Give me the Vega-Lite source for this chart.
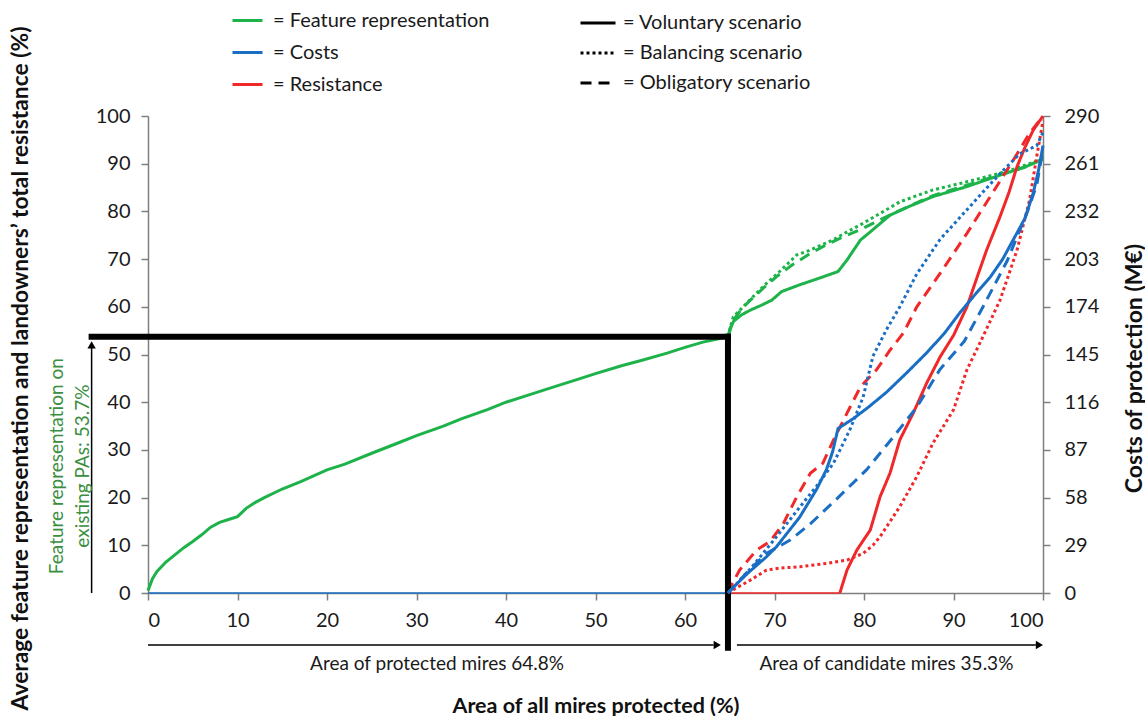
{
  "$schema": "https://vega.github.io/schema/vega-lite/v6.json",
  "width": 895,
  "height": 477,
  "autosize": {"type": "none"},
  "padding": {"left": 148, "top": 116, "right": 102, "bottom": 123},
  "background": "white",
  "config": {
    "font": "Lato",
    "view": {"stroke": null},
    "axis": {
      "grid": false,
      "domainColor": "#7f7f7f",
      "domainWidth": 1.5,
      "tickColor": "#7f7f7f",
      "tickWidth": 1.5,
      "tickSize": 7,
      "labelFontSize": 20,
      "labelColor": "#1a1a1a",
      "titleFontSize": 21.5,
      "titleFontWeight": "bold",
      "titleColor": "#111111"
    },
    "legend": {
      "labelFontSize": 20,
      "labelColor": "#1a1a1a",
      "labelLimit": 400
    }
  },
  "datasets": {
    "base": [
      {"series": "Feature representation", "x": 0, "y": 0.5},
      {"series": "Feature representation", "x": 0.5, "y": 3},
      {"series": "Feature representation", "x": 1, "y": 4.5},
      {"series": "Feature representation", "x": 2, "y": 6.5},
      {"series": "Feature representation", "x": 3, "y": 8},
      {"series": "Feature representation", "x": 4, "y": 9.5},
      {"series": "Feature representation", "x": 5, "y": 10.8},
      {"series": "Feature representation", "x": 6, "y": 12.2},
      {"series": "Feature representation", "x": 7, "y": 13.8},
      {"series": "Feature representation", "x": 8, "y": 14.8},
      {"series": "Feature representation", "x": 9, "y": 15.4},
      {"series": "Feature representation", "x": 10, "y": 16},
      {"series": "Feature representation", "x": 11, "y": 17.8},
      {"series": "Feature representation", "x": 12, "y": 19},
      {"series": "Feature representation", "x": 13, "y": 20},
      {"series": "Feature representation", "x": 15, "y": 21.8},
      {"series": "Feature representation", "x": 17, "y": 23.3},
      {"series": "Feature representation", "x": 20, "y": 25.8},
      {"series": "Feature representation", "x": 22, "y": 27},
      {"series": "Feature representation", "x": 25, "y": 29.3},
      {"series": "Feature representation", "x": 28, "y": 31.5},
      {"series": "Feature representation", "x": 30, "y": 33},
      {"series": "Feature representation", "x": 33, "y": 35},
      {"series": "Feature representation", "x": 35, "y": 36.5},
      {"series": "Feature representation", "x": 38, "y": 38.5},
      {"series": "Feature representation", "x": 40, "y": 40},
      {"series": "Feature representation", "x": 43, "y": 41.8},
      {"series": "Feature representation", "x": 45, "y": 43},
      {"series": "Feature representation", "x": 48, "y": 44.8},
      {"series": "Feature representation", "x": 50, "y": 46},
      {"series": "Feature representation", "x": 53, "y": 47.7},
      {"series": "Feature representation", "x": 55, "y": 48.7},
      {"series": "Feature representation", "x": 58, "y": 50.3},
      {"series": "Feature representation", "x": 60, "y": 51.5},
      {"series": "Feature representation", "x": 62, "y": 52.6},
      {"series": "Feature representation", "x": 64.8, "y": 53.7},
      {"series": "Costs", "x": 0, "y": 0},
      {"series": "Costs", "x": 64.8, "y": 0},
      {"series": "Resistance", "x": 64.8, "y": 0},
      {"series": "Resistance", "x": 77.3, "y": 0}
    ],
    "scen": [
      {"series": "Feature representation", "scenario": "Voluntary scenario", "x": 64.8, "y": 53.7},
      {"series": "Feature representation", "scenario": "Voluntary scenario", "x": 65.1, "y": 55.5},
      {"series": "Feature representation", "scenario": "Voluntary scenario", "x": 65.4, "y": 56.9},
      {"series": "Feature representation", "scenario": "Voluntary scenario", "x": 66.3, "y": 58.3},
      {"series": "Feature representation", "scenario": "Voluntary scenario", "x": 67.3, "y": 59.3},
      {"series": "Feature representation", "scenario": "Voluntary scenario", "x": 68.5, "y": 60.3},
      {"series": "Feature representation", "scenario": "Voluntary scenario", "x": 69.7, "y": 61.4},
      {"series": "Feature representation", "scenario": "Voluntary scenario", "x": 70.8, "y": 63.2},
      {"series": "Feature representation", "scenario": "Voluntary scenario", "x": 72.8, "y": 64.6},
      {"series": "Feature representation", "scenario": "Voluntary scenario", "x": 75, "y": 66},
      {"series": "Feature representation", "scenario": "Voluntary scenario", "x": 77.1, "y": 67.4},
      {"series": "Feature representation", "scenario": "Voluntary scenario", "x": 78.1, "y": 69.8},
      {"series": "Feature representation", "scenario": "Voluntary scenario", "x": 79.6, "y": 74},
      {"series": "Feature representation", "scenario": "Voluntary scenario", "x": 80.7, "y": 75.7},
      {"series": "Feature representation", "scenario": "Voluntary scenario", "x": 82.9, "y": 79.2},
      {"series": "Feature representation", "scenario": "Voluntary scenario", "x": 85, "y": 81},
      {"series": "Feature representation", "scenario": "Voluntary scenario", "x": 87.7, "y": 83.1},
      {"series": "Feature representation", "scenario": "Voluntary scenario", "x": 91.5, "y": 85.2},
      {"series": "Feature representation", "scenario": "Voluntary scenario", "x": 95.2, "y": 87.6},
      {"series": "Feature representation", "scenario": "Voluntary scenario", "x": 98, "y": 89.3},
      {"series": "Feature representation", "scenario": "Voluntary scenario", "x": 100, "y": 91},
      {"series": "Feature representation", "scenario": "Balancing scenario", "x": 64.8, "y": 53.7},
      {"series": "Feature representation", "scenario": "Balancing scenario", "x": 65.1, "y": 56},
      {"series": "Feature representation", "scenario": "Balancing scenario", "x": 65.4, "y": 57.9},
      {"series": "Feature representation", "scenario": "Balancing scenario", "x": 66.5, "y": 60},
      {"series": "Feature representation", "scenario": "Balancing scenario", "x": 67.8, "y": 62.5},
      {"series": "Feature representation", "scenario": "Balancing scenario", "x": 69.1, "y": 64.9},
      {"series": "Feature representation", "scenario": "Balancing scenario", "x": 70.8, "y": 67.8},
      {"series": "Feature representation", "scenario": "Balancing scenario", "x": 72.5, "y": 70.9},
      {"series": "Feature representation", "scenario": "Balancing scenario", "x": 74, "y": 71.9},
      {"series": "Feature representation", "scenario": "Balancing scenario", "x": 76.5, "y": 74},
      {"series": "Feature representation", "scenario": "Balancing scenario", "x": 78.2, "y": 75.8},
      {"series": "Feature representation", "scenario": "Balancing scenario", "x": 79.9, "y": 77.5},
      {"series": "Feature representation", "scenario": "Balancing scenario", "x": 82, "y": 79.8},
      {"series": "Feature representation", "scenario": "Balancing scenario", "x": 84, "y": 82},
      {"series": "Feature representation", "scenario": "Balancing scenario", "x": 87.7, "y": 84.5},
      {"series": "Feature representation", "scenario": "Balancing scenario", "x": 91.5, "y": 86.2},
      {"series": "Feature representation", "scenario": "Balancing scenario", "x": 94.4, "y": 87.6},
      {"series": "Feature representation", "scenario": "Balancing scenario", "x": 97, "y": 89},
      {"series": "Feature representation", "scenario": "Balancing scenario", "x": 100, "y": 91},
      {"series": "Feature representation", "scenario": "Obligatory scenario", "x": 64.8, "y": 53.7},
      {"series": "Feature representation", "scenario": "Obligatory scenario", "x": 65.1, "y": 55.8},
      {"series": "Feature representation", "scenario": "Obligatory scenario", "x": 65.4, "y": 57.2},
      {"series": "Feature representation", "scenario": "Obligatory scenario", "x": 66.3, "y": 59.5},
      {"series": "Feature representation", "scenario": "Obligatory scenario", "x": 67.3, "y": 61.4},
      {"series": "Feature representation", "scenario": "Obligatory scenario", "x": 68.8, "y": 64},
      {"series": "Feature representation", "scenario": "Obligatory scenario", "x": 70.2, "y": 66.3},
      {"series": "Feature representation", "scenario": "Obligatory scenario", "x": 72, "y": 68.8},
      {"series": "Feature representation", "scenario": "Obligatory scenario", "x": 74, "y": 71.2},
      {"series": "Feature representation", "scenario": "Obligatory scenario", "x": 75.8, "y": 73},
      {"series": "Feature representation", "scenario": "Obligatory scenario", "x": 77.7, "y": 74.7},
      {"series": "Feature representation", "scenario": "Obligatory scenario", "x": 79.4, "y": 76},
      {"series": "Feature representation", "scenario": "Obligatory scenario", "x": 81, "y": 77.5},
      {"series": "Feature representation", "scenario": "Obligatory scenario", "x": 83.3, "y": 79.6},
      {"series": "Feature representation", "scenario": "Obligatory scenario", "x": 85.5, "y": 81.5},
      {"series": "Feature representation", "scenario": "Obligatory scenario", "x": 87.7, "y": 83.3},
      {"series": "Feature representation", "scenario": "Obligatory scenario", "x": 91.5, "y": 85.5},
      {"series": "Feature representation", "scenario": "Obligatory scenario", "x": 95.2, "y": 87.7},
      {"series": "Feature representation", "scenario": "Obligatory scenario", "x": 98, "y": 89.3},
      {"series": "Feature representation", "scenario": "Obligatory scenario", "x": 100, "y": 91},
      {"series": "Resistance", "scenario": "Voluntary scenario", "x": 77.3, "y": 0},
      {"series": "Resistance", "scenario": "Voluntary scenario", "x": 78.1, "y": 4.8},
      {"series": "Resistance", "scenario": "Voluntary scenario", "x": 79.2, "y": 9},
      {"series": "Resistance", "scenario": "Voluntary scenario", "x": 80.7, "y": 13.2},
      {"series": "Resistance", "scenario": "Voluntary scenario", "x": 81.8, "y": 20.2},
      {"series": "Resistance", "scenario": "Voluntary scenario", "x": 82.9, "y": 25.1},
      {"series": "Resistance", "scenario": "Voluntary scenario", "x": 84, "y": 32.1},
      {"series": "Resistance", "scenario": "Voluntary scenario", "x": 85.5, "y": 37.7},
      {"series": "Resistance", "scenario": "Voluntary scenario", "x": 87, "y": 44},
      {"series": "Resistance", "scenario": "Voluntary scenario", "x": 88.5, "y": 49.5},
      {"series": "Resistance", "scenario": "Voluntary scenario", "x": 90, "y": 54},
      {"series": "Resistance", "scenario": "Voluntary scenario", "x": 91.5, "y": 60},
      {"series": "Resistance", "scenario": "Voluntary scenario", "x": 92.6, "y": 66},
      {"series": "Resistance", "scenario": "Voluntary scenario", "x": 93.7, "y": 71.9},
      {"series": "Resistance", "scenario": "Voluntary scenario", "x": 95.2, "y": 78.9},
      {"series": "Resistance", "scenario": "Voluntary scenario", "x": 96.2, "y": 84},
      {"series": "Resistance", "scenario": "Voluntary scenario", "x": 97.1, "y": 89.4},
      {"series": "Resistance", "scenario": "Voluntary scenario", "x": 98, "y": 93.5},
      {"series": "Resistance", "scenario": "Voluntary scenario", "x": 98.9, "y": 97},
      {"series": "Resistance", "scenario": "Voluntary scenario", "x": 100, "y": 100},
      {"series": "Resistance", "scenario": "Balancing scenario", "x": 64.8, "y": 0},
      {"series": "Resistance", "scenario": "Balancing scenario", "x": 65.5, "y": 0.8},
      {"series": "Resistance", "scenario": "Balancing scenario", "x": 67.3, "y": 2.7},
      {"series": "Resistance", "scenario": "Balancing scenario", "x": 69.1, "y": 4.8},
      {"series": "Resistance", "scenario": "Balancing scenario", "x": 70.5, "y": 5.2},
      {"series": "Resistance", "scenario": "Balancing scenario", "x": 72.8, "y": 5.5},
      {"series": "Resistance", "scenario": "Balancing scenario", "x": 75.8, "y": 6.2},
      {"series": "Resistance", "scenario": "Balancing scenario", "x": 78.1, "y": 6.9},
      {"series": "Resistance", "scenario": "Balancing scenario", "x": 79.9, "y": 8.3},
      {"series": "Resistance", "scenario": "Balancing scenario", "x": 81, "y": 10},
      {"series": "Resistance", "scenario": "Balancing scenario", "x": 81.8, "y": 11.8},
      {"series": "Resistance", "scenario": "Balancing scenario", "x": 84, "y": 18.1},
      {"series": "Resistance", "scenario": "Balancing scenario", "x": 85.9, "y": 24.4},
      {"series": "Resistance", "scenario": "Balancing scenario", "x": 87.7, "y": 31.4},
      {"series": "Resistance", "scenario": "Balancing scenario", "x": 90, "y": 38.4},
      {"series": "Resistance", "scenario": "Balancing scenario", "x": 91.5, "y": 46.8},
      {"series": "Resistance", "scenario": "Balancing scenario", "x": 93.1, "y": 53},
      {"series": "Resistance", "scenario": "Balancing scenario", "x": 95.2, "y": 61.4},
      {"series": "Resistance", "scenario": "Balancing scenario", "x": 97.1, "y": 71.9},
      {"series": "Resistance", "scenario": "Balancing scenario", "x": 98.5, "y": 82.4},
      {"series": "Resistance", "scenario": "Balancing scenario", "x": 99.3, "y": 91.5},
      {"series": "Resistance", "scenario": "Balancing scenario", "x": 100, "y": 99},
      {"series": "Resistance", "scenario": "Obligatory scenario", "x": 64.8, "y": 0},
      {"series": "Resistance", "scenario": "Obligatory scenario", "x": 65.3, "y": 2},
      {"series": "Resistance", "scenario": "Obligatory scenario", "x": 66.1, "y": 4.8},
      {"series": "Resistance", "scenario": "Obligatory scenario", "x": 68, "y": 9},
      {"series": "Resistance", "scenario": "Obligatory scenario", "x": 69.5, "y": 10.8},
      {"series": "Resistance", "scenario": "Obligatory scenario", "x": 71, "y": 14.6},
      {"series": "Resistance", "scenario": "Obligatory scenario", "x": 72.5, "y": 20.2},
      {"series": "Resistance", "scenario": "Obligatory scenario", "x": 74, "y": 25.1},
      {"series": "Resistance", "scenario": "Obligatory scenario", "x": 75.4, "y": 27.2},
      {"series": "Resistance", "scenario": "Obligatory scenario", "x": 76.6, "y": 32.1},
      {"series": "Resistance", "scenario": "Obligatory scenario", "x": 78.1, "y": 37.7},
      {"series": "Resistance", "scenario": "Obligatory scenario", "x": 79.6, "y": 43.2},
      {"series": "Resistance", "scenario": "Obligatory scenario", "x": 81.4, "y": 46.8},
      {"series": "Resistance", "scenario": "Obligatory scenario", "x": 82.9, "y": 50.9},
      {"series": "Resistance", "scenario": "Obligatory scenario", "x": 84.4, "y": 54.5},
      {"series": "Resistance", "scenario": "Obligatory scenario", "x": 85.9, "y": 60},
      {"series": "Resistance", "scenario": "Obligatory scenario", "x": 88.5, "y": 67},
      {"series": "Resistance", "scenario": "Obligatory scenario", "x": 91.5, "y": 75.4},
      {"series": "Resistance", "scenario": "Obligatory scenario", "x": 94.1, "y": 83.1},
      {"series": "Resistance", "scenario": "Obligatory scenario", "x": 96.7, "y": 90.8},
      {"series": "Resistance", "scenario": "Obligatory scenario", "x": 98.5, "y": 96.4},
      {"series": "Resistance", "scenario": "Obligatory scenario", "x": 100, "y": 100}
    ],
    "costs": [
      {"series": "Costs", "scenario": "Voluntary scenario", "x": 64.8, "cost": 0},
      {"series": "Costs", "scenario": "Voluntary scenario", "x": 65.5, "cost": 4},
      {"series": "Costs", "scenario": "Voluntary scenario", "x": 67, "cost": 12},
      {"series": "Costs", "scenario": "Voluntary scenario", "x": 69.1, "cost": 22},
      {"series": "Costs", "scenario": "Voluntary scenario", "x": 70.2, "cost": 28},
      {"series": "Costs", "scenario": "Voluntary scenario", "x": 71.5, "cost": 37},
      {"series": "Costs", "scenario": "Voluntary scenario", "x": 72.8, "cost": 46},
      {"series": "Costs", "scenario": "Voluntary scenario", "x": 74.7, "cost": 63},
      {"series": "Costs", "scenario": "Voluntary scenario", "x": 75.8, "cost": 75},
      {"series": "Costs", "scenario": "Voluntary scenario", "x": 76.5, "cost": 86},
      {"series": "Costs", "scenario": "Voluntary scenario", "x": 77.1, "cost": 100},
      {"series": "Costs", "scenario": "Voluntary scenario", "x": 78.8, "cost": 106},
      {"series": "Costs", "scenario": "Voluntary scenario", "x": 80.5, "cost": 113},
      {"series": "Costs", "scenario": "Voluntary scenario", "x": 82.5, "cost": 122},
      {"series": "Costs", "scenario": "Voluntary scenario", "x": 84.8, "cost": 134},
      {"series": "Costs", "scenario": "Voluntary scenario", "x": 87, "cost": 146},
      {"series": "Costs", "scenario": "Voluntary scenario", "x": 89, "cost": 158},
      {"series": "Costs", "scenario": "Voluntary scenario", "x": 90.8, "cost": 171},
      {"series": "Costs", "scenario": "Voluntary scenario", "x": 92.5, "cost": 182},
      {"series": "Costs", "scenario": "Voluntary scenario", "x": 94.1, "cost": 192},
      {"series": "Costs", "scenario": "Voluntary scenario", "x": 95.5, "cost": 203},
      {"series": "Costs", "scenario": "Voluntary scenario", "x": 96.7, "cost": 215},
      {"series": "Costs", "scenario": "Voluntary scenario", "x": 98, "cost": 228},
      {"series": "Costs", "scenario": "Voluntary scenario", "x": 98.9, "cost": 243},
      {"series": "Costs", "scenario": "Voluntary scenario", "x": 99.5, "cost": 257},
      {"series": "Costs", "scenario": "Voluntary scenario", "x": 100, "cost": 272},
      {"series": "Costs", "scenario": "Balancing scenario", "x": 64.8, "cost": 0},
      {"series": "Costs", "scenario": "Balancing scenario", "x": 65.5, "cost": 4},
      {"series": "Costs", "scenario": "Balancing scenario", "x": 67.5, "cost": 16},
      {"series": "Costs", "scenario": "Balancing scenario", "x": 70.2, "cost": 34},
      {"series": "Costs", "scenario": "Balancing scenario", "x": 72.5, "cost": 50},
      {"series": "Costs", "scenario": "Balancing scenario", "x": 74.7, "cost": 65},
      {"series": "Costs", "scenario": "Balancing scenario", "x": 76.6, "cost": 79},
      {"series": "Costs", "scenario": "Balancing scenario", "x": 78.4, "cost": 99},
      {"series": "Costs", "scenario": "Balancing scenario", "x": 79.9, "cost": 119},
      {"series": "Costs", "scenario": "Balancing scenario", "x": 81, "cost": 144},
      {"series": "Costs", "scenario": "Balancing scenario", "x": 82.5, "cost": 160},
      {"series": "Costs", "scenario": "Balancing scenario", "x": 84, "cost": 174},
      {"series": "Costs", "scenario": "Balancing scenario", "x": 85.9, "cost": 194},
      {"series": "Costs", "scenario": "Balancing scenario", "x": 88.5, "cost": 215},
      {"series": "Costs", "scenario": "Balancing scenario", "x": 91.5, "cost": 233},
      {"series": "Costs", "scenario": "Balancing scenario", "x": 93.5, "cost": 245},
      {"series": "Costs", "scenario": "Balancing scenario", "x": 95.2, "cost": 255},
      {"series": "Costs", "scenario": "Balancing scenario", "x": 97.4, "cost": 267},
      {"series": "Costs", "scenario": "Balancing scenario", "x": 99.3, "cost": 272},
      {"series": "Costs", "scenario": "Balancing scenario", "x": 100, "cost": 280},
      {"series": "Costs", "scenario": "Obligatory scenario", "x": 64.8, "cost": 0},
      {"series": "Costs", "scenario": "Obligatory scenario", "x": 65.5, "cost": 4},
      {"series": "Costs", "scenario": "Obligatory scenario", "x": 67, "cost": 13},
      {"series": "Costs", "scenario": "Obligatory scenario", "x": 69.1, "cost": 24},
      {"series": "Costs", "scenario": "Obligatory scenario", "x": 71.7, "cost": 32},
      {"series": "Costs", "scenario": "Obligatory scenario", "x": 74, "cost": 42},
      {"series": "Costs", "scenario": "Obligatory scenario", "x": 77.3, "cost": 59},
      {"series": "Costs", "scenario": "Obligatory scenario", "x": 80.3, "cost": 75},
      {"series": "Costs", "scenario": "Obligatory scenario", "x": 83.3, "cost": 95},
      {"series": "Costs", "scenario": "Obligatory scenario", "x": 85.9, "cost": 113},
      {"series": "Costs", "scenario": "Obligatory scenario", "x": 88.5, "cost": 136},
      {"series": "Costs", "scenario": "Obligatory scenario", "x": 91.2, "cost": 153},
      {"series": "Costs", "scenario": "Obligatory scenario", "x": 93.3, "cost": 174},
      {"series": "Costs", "scenario": "Obligatory scenario", "x": 96, "cost": 202},
      {"series": "Costs", "scenario": "Obligatory scenario", "x": 98.2, "cost": 231},
      {"series": "Costs", "scenario": "Obligatory scenario", "x": 99.3, "cost": 248},
      {"series": "Costs", "scenario": "Obligatory scenario", "x": 100, "cost": 270}
    ],
    "frame": [
      {"x": -6.3, "y": 53.7, "x2": 64.8, "y2": 53.7},
      {"x": 64.8, "y": 53.7, "x2": 64.8, "y2": -11.5}
    ],
    "arrows": [
      {"x": -6.3, "y": 0, "x2": -6.3, "y2": 51.5},
      {"x": 0, "y": -10.9, "x2": 63.2, "y2": -10.9},
      {"x": 65.8, "y": -10.9, "x2": 99.2, "y2": -10.9}
    ],
    "heads": [
      {"x": -6.3, "y": 52, "dir": "up"},
      {"x": 63.6, "y": -10.9, "dir": "right"},
      {"x": 99.6, "y": -10.9, "dir": "right"}
    ],
    "notes": [
      {"x": 32.3, "y": -14.8, "label": "Area of protected mires 64.8%"},
      {"x": 82.5, "y": -14.8, "label": "Area of candidate mires 35.3%"}
    ],
    "pa": [
      {"x": -10.2, "y": 26.6, "label": "Feature representation on\nexisting PAs: 53.7%"}
    ]
  },
  "layer": [
    {
      "encoding": {
        "x": {
          "field": "x", "type": "quantitative",
          "title": "Area of all mires protected (%)",
          "scale": {"domain": [0, 100], "nice": false, "zero": false},
          "axis": {"values": [0, 10, 20, 30, 40, 50, 60, 70, 80, 90, 100], "labelPadding": 10, "titleY": 113, "titleBaseline": "middle"}
        },
        "y": {
          "field": "y", "type": "quantitative",
          "title": "Average feature representation and landowners’ total resistance (%)",
          "scale": {"domain": [0, 100], "nice": false, "zero": false},
          "axis": {"orient": "left", "values": [0, 10, 20, 30, 40, 50, 60, 70, 80, 90, 100], "labelPadding": 11, "titleFontSize": 22.8, "titleX": -128, "titleY": 252, "titleAngle": 270, "titleBaseline": "middle", "titleAlign": "center"}
        }
      },
      "layer": [
        {
          "data": {"name": "base"},
          "transform": [{"filter": "datum.series === 'Feature representation'"}],
          "mark": {"type": "line", "strokeWidth": 3, "color": "#1db34a"},
          "encoding": {}
        },
        {
          "data": {"name": "base"},
          "transform": [{"filter": "datum.series === 'Costs'"}],
          "mark": {"type": "line", "strokeWidth": 1.6, "color": "#1a6fc4"},
          "encoding": {}
        },
        {
          "data": {"name": "base"},
          "transform": [{"filter": "datum.series === 'Resistance'"}],
          "mark": {"type": "line", "strokeWidth": 1.6, "color": "#f0282a"},
          "encoding": {}
        },
        {
          "data": {"name": "scen"},
          "mark": {"type": "line", "strokeWidth": 3},
          "encoding": {
            "color": {
              "field": "series", "type": "nominal",
              "scale": {"domain": ["Feature representation", "Costs", "Resistance"], "range": ["#1db34a", "#1a6fc4", "#f0282a"]},
              "legend": {"title": null, "orient": "none", "legendX": 83, "legendY": -112, "symbolType": "stroke", "symbolSize": 900, "symbolStrokeWidth": 3, "rowPadding": 5, "labelOffset": 9, "labelExpr": "'= ' + datum.label"}
            },
            "strokeDash": {
              "field": "scenario", "type": "nominal",
              "scale": {"domain": ["Voluntary scenario", "Balancing scenario", "Obligatory scenario"], "range": [[1, 0], [3, 3], [11, 7]]},
              "legend": {"title": null, "orient": "none", "legendX": 431, "legendY": -112, "symbolType": "stroke", "symbolSize": 1225, "symbolStrokeWidth": 3, "symbolStrokeColor": "black", "rowPadding": 1, "labelOffset": 6, "labelExpr": "'= ' + datum.label"}
            }
          }
        },
        {
          "data": {"name": "frame"},
          "mark": {"type": "rule", "strokeWidth": 6, "color": "black", "strokeCap": "square"},
          "encoding": {
            "x2": {"field": "x2"},
            "y2": {"field": "y2"}
          }
        },
        {
          "data": {"name": "arrows"},
          "mark": {"type": "rule", "strokeWidth": 1.5, "color": "black"},
          "encoding": {
            "x2": {"field": "x2"},
            "y2": {"field": "y2"}
          }
        },
        {
          "data": {"name": "heads"},
          "mark": {"type": "point", "filled": true, "color": "black", "opacity": 1, "size": 70},
          "encoding": {
            "shape": {"field": "dir", "type": "nominal", "scale": {"domain": ["up", "right"], "range": ["triangle-up", "triangle-right"]}, "legend": null}
          }
        },
        {
          "data": {"name": "notes"},
          "mark": {"type": "text", "fontSize": 19, "color": "#1a1a1a", "align": "center", "baseline": "middle"},
          "encoding": {"text": {"field": "label"}}
        },
        {
          "data": {"name": "pa"},
          "mark": {"type": "text", "fontSize": 19, "color": "#3a8f3f", "align": "center", "baseline": "middle", "angle": 270, "lineBreak": "\n", "lineHeight": 26},
          "encoding": {"text": {"field": "label"}}
        }
      ]
    },
    {
      "data": {"name": "costs"},
      "mark": {"type": "line", "strokeWidth": 3},
      "encoding": {
        "x": {
          "field": "x", "type": "quantitative",
          "title": "Area of all mires protected (%)",
          "scale": {"domain": [0, 100], "nice": false, "zero": false}
        },
        "y": {
          "field": "cost", "type": "quantitative",
          "title": "Costs of protection (M€)",
          "scale": {"domain": [0, 290], "nice": false, "zero": false},
          "axis": {"orient": "right", "values": [0, 29, 58, 87, 116, 145, 174, 203, 232, 261, 290], "labelPadding": 14, "titleFontSize": 23, "titleX": 91, "titleY": 252, "titleAngle": 270, "titleBaseline": "middle", "titleAlign": "center"}
        },
        "color": {
          "field": "series", "type": "nominal",
          "scale": {"domain": ["Feature representation", "Costs", "Resistance"], "range": ["#1db34a", "#1a6fc4", "#f0282a"]},
          "legend": {"title": null, "orient": "none", "legendX": 83, "legendY": -112, "symbolType": "stroke", "symbolSize": 900, "symbolStrokeWidth": 3, "rowPadding": 5, "labelOffset": 9, "labelExpr": "'= ' + datum.label"}
        },
        "strokeDash": {
          "field": "scenario", "type": "nominal",
          "scale": {"domain": ["Voluntary scenario", "Balancing scenario", "Obligatory scenario"], "range": [[1, 0], [3, 3], [11, 7]]},
          "legend": {"title": null, "orient": "none", "legendX": 431, "legendY": -112, "symbolType": "stroke", "symbolSize": 1225, "symbolStrokeWidth": 3, "symbolStrokeColor": "black", "rowPadding": 1, "labelOffset": 6, "labelExpr": "'= ' + datum.label"}
        }
      }
    }
  ],
  "resolve": {"scale": {"y": "independent"}}
}
